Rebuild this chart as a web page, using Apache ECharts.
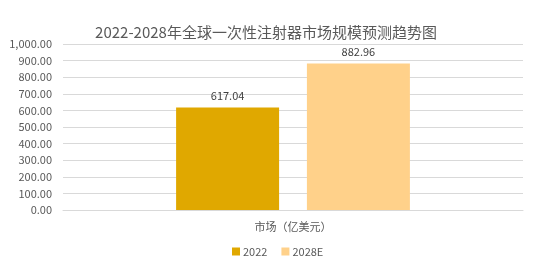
<!DOCTYPE html>
<html>
<head>
<meta charset="utf-8">
<script src="https://cdn.jsdelivr.net/npm/echarts@6/dist/echarts.min.js"></script>
<style>
  html, body { margin: 0; padding: 0; background: #fff; }
  #chart { width: 535px; height: 271px; }
</style>
</head>
<body>
<div id="chart"></div>
<script>
// 数据
const categories = ['市场（亿美元）'];
const seriesNames = ['2022', '2028E'];
const values2022 = [617.04];
const values2028 = [882.96];
const colors = ['#E0A800', '#FFD18A'];

const chart = echarts.init(document.getElementById('chart'));

const fontFamily = '"Noto Sans CJK SC", "Microsoft YaHei", sans-serif';

chart.setOption({
  animation: false,
  textStyle: { fontFamily: fontFamily },
  title: {
    text: '2022-2028年全球一次性注射器市场规模预测趋势图',
    left: 261,
    top: 20,
    textAlign: 'center',
    textStyle: { fontSize: 15, fontWeight: 'normal', color: '#595959', fontFamily: fontFamily }
  },
  legend: {
    data: seriesNames,
    bottom: 9,
    left: 227,
    itemWidth: 8,
    itemHeight: 8,
    itemGap: 14,
    icon: 'rect',
    textStyle: { fontSize: 11, color: '#595959', fontFamily: fontFamily, padding: [0, 0, 0, -2] }
  },
  grid: {
    left: 63,
    right: 12,
    top: 44,
    bottom: 61
  },
  xAxis: {
    type: 'category',
    data: categories,
    axisLine: { lineStyle: { color: '#d9d9d9' } },
    axisTick: { show: false },
    axisLabel: { fontSize: 11, color: '#595959', margin: 11 }
  },
  yAxis: {
    type: 'value',
    min: 0,
    max: 1000,
    interval: 100,
    axisLine: { show: false },
    axisTick: { show: false },
    splitLine: { lineStyle: { color: '#d9d9d9' } },
    axisLabel: {
      fontSize: 11,
      color: '#595959',
      margin: 11,
      formatter: v => v.toLocaleString('en-US', { minimumFractionDigits: 2, maximumFractionDigits: 2 })
    }
  },
  series: [
    {
      name: seriesNames[0],
      type: 'bar',
      data: values2022,
      barWidth: 103,
      barGap: '27%',
      barCategoryGap: '49%',
      itemStyle: { color: colors[0] },
      label: { show: true, position: 'top', fontSize: 11, color: '#404040', distance: 6, formatter: p => p.value.toFixed(2) }
    },
    {
      name: seriesNames[1],
      type: 'bar',
      data: values2028,
      barWidth: 103,
      barGap: '27%',
      itemStyle: { color: colors[1] },
      label: { show: true, position: 'top', fontSize: 11, color: '#404040', distance: 6, formatter: p => p.value.toFixed(2) }
    }
  ]
});
</script>
</body>
</html>
